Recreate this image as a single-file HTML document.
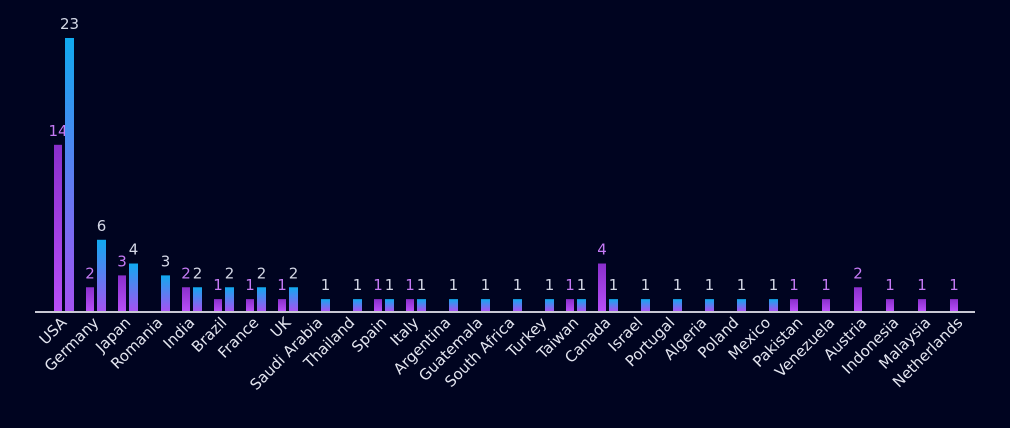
<!DOCTYPE html>
<html><head><meta charset="utf-8"><style>
html,body{margin:0;padding:0;background:#000420;}
svg{display:block}
text{font-family:"DejaVu Sans","Liberation Sans",sans-serif;}
</style></head><body>
<svg id="s" width="1010" height="428" xmlns="http://www.w3.org/2000/svg">
<defs>
<linearGradient id="gp" x1="0" y1="0" x2="0" y2="1"><stop offset="0" stop-color="#8a2fcc"/><stop offset="1" stop-color="#b84ef8"/></linearGradient>
<linearGradient id="gb" x1="0" y1="0" x2="0" y2="1"><stop offset="0" stop-color="#10aaf0"/><stop offset="1" stop-color="#a552f2"/></linearGradient>
</defs>
<rect width="1010" height="428" fill="#000420"/>
<g id="g"></g>
<line x1="35" y1="312" x2="975" y2="312" stroke="#c8c8d4" stroke-width="2"/>
</svg>
<script>
var n=["USA","Germany","Japan","Romania","India","Brazil","France","UK","Saudi Arabia","Thailand","Spain","Italy","Argentina","Guatemala","South Africa","Turkey","Taiwan","Canada","Israel","Portugal","Algeria","Poland","Mexico","Pakistan","Venezuela","Austria","Indonesia","Malaysia","Netherlands"];
var p=[14,2,3,0,2,1,1,1,0,0,1,1,0,0,0,0,1,4,0,0,0,0,0,1,1,2,1,1,1];
var b=[23,6,4,3,2,2,2,2,1,1,1,1,1,1,1,1,1,1,1,1,1,1,1,0,0,0,0,0,0];
var h="",k=11.87,base=311;
for(var i=0;i<n.length;i++){
 var xp=54+32*i,xb=65+32*i;
 if(p[i]){var hh=p[i]*k;h+='<rect x="'+xp+'" y="'+(base-hh)+'" width="8" height="'+hh+'" fill="url(#gp)"/>';
  h+='<text x="'+(xp+4)+'" y="'+(base-hh-9)+'" font-size="15" fill="#c57af5" text-anchor="middle">'+p[i]+'</text>';}
 if(b[i]){var hh=b[i]*k;h+='<rect x="'+xb+'" y="'+(base-hh)+'" width="9" height="'+hh+'" fill="url(#gb)"/>';
  h+='<text x="'+(xb+4.5)+'" y="'+(base-hh-9)+'" font-size="15" fill="#d4d8e6" text-anchor="middle">'+b[i]+'</text>';}
 var cx=64+32*i;
 h+='<text transform="translate('+cx+',320) rotate(-45)" font-size="15" fill="#e4e6f0" text-anchor="end" dy="5">'+n[i]+'</text>';
}
document.getElementById("g").innerHTML=h;
</script>
</body></html>
